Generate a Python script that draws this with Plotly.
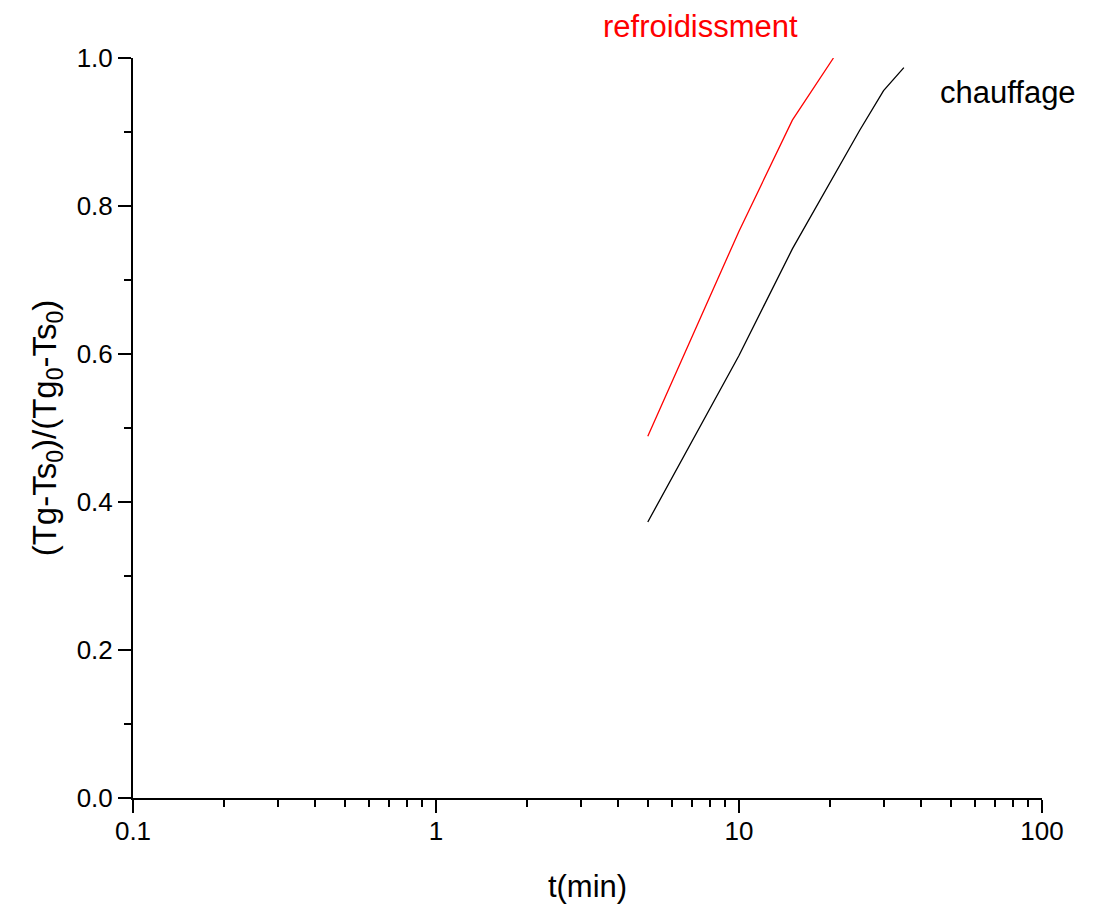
import plotly.graph_objects as go

# Data
t_refroid = [5, 10, 15, 20.5]
y_refroid = [0.489, 0.766, 0.916, 1.0]

t_chauff = [5, 10, 15, 20, 25, 30, 35]
y_chauff = [0.373, 0.598, 0.742, 0.831, 0.902, 0.956, 0.987]

x_tickvals = [0.1, 1, 10, 100]
x_ticktext = ["0.1", "1", "10", "100"]

FONT = "Liberation Sans, Arial, sans-serif"

fig = go.Figure()
fig.add_trace(go.Scatter(x=t_refroid, y=y_refroid, mode="lines",
                         line=dict(color="#ff0000", width=1.3), showlegend=False))
fig.add_trace(go.Scatter(x=t_chauff, y=y_chauff, mode="lines",
                         line=dict(color="#000000", width=1.3), showlegend=False))

minor_x = [m * 10.0 ** d for d in (-1, 0, 1) for m in range(2, 10)]

fig.update_layout(
    width=1093, height=909,
    margin=dict(l=125, r=59, t=50, b=119),
    paper_bgcolor="white", plot_bgcolor="white",
    font=dict(family=FONT, color="black", size=26),
    xaxis=dict(
        type="log", range=[-1, 2],
        tickvals=x_tickvals, ticktext=x_ticktext,
        ticks="outside", ticklen=13, tickwidth=2, tickcolor="black",
        ticklabelstandoff=-4,
        showline=True, linecolor="black", linewidth=2,
        showgrid=False, zeroline=False,
        tickfont=dict(size=26, family=FONT),
        minor=dict(tickvals=minor_x, ticks="outside", ticklen=7, tickwidth=2,
                   tickcolor="black", showgrid=False),
        title=dict(text="t(min)", font=dict(size=31, family=FONT), standoff=30),
    ),
    yaxis=dict(
        range=[0, 1], dtick=0.2, tickformat=".1f",
        ticks="outside", ticklen=13, tickwidth=2, tickcolor="black",
        showline=True, linecolor="black", linewidth=2,
        showgrid=False, zeroline=False,
        tickfont=dict(size=26, family=FONT),
        minor=dict(dtick=0.1, ticks="outside", ticklen=7, tickwidth=2,
                   tickcolor="black", showgrid=False),
        title=dict(text="(Tg-Ts<sub>0</sub>)/(Tg<sub>0</sub>-Ts<sub>0</sub>)",
                   font=dict(size=33, family=FONT), standoff=10),
    ),
    annotations=[
        dict(text="refroidissment", x=0.624, y=1.042, xref="paper", yref="paper",
             showarrow=False, font=dict(size=31, color="#ff0000", family=FONT),
             xanchor="center", yanchor="middle"),
        dict(text="chauffage", x=0.9626, y=0.953, xref="paper", yref="paper",
             showarrow=False, font=dict(size=31, color="black", family=FONT),
             xanchor="center", yanchor="middle"),
    ],
)

fig.write_html("out.html")
